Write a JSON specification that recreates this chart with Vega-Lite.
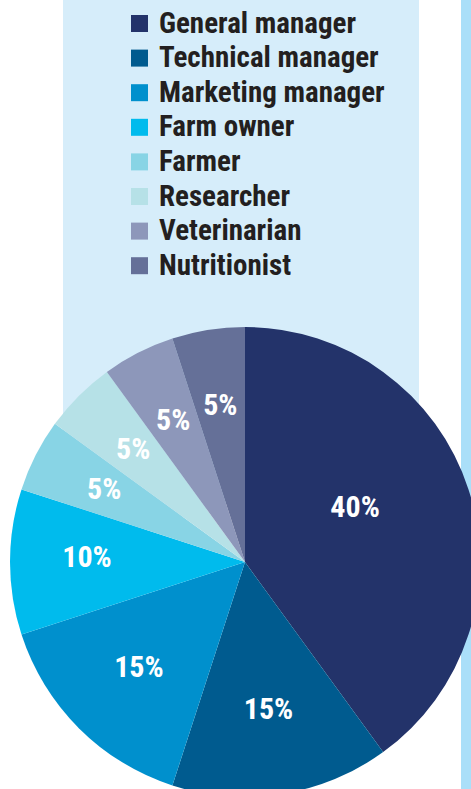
{
  "$schema": "https://vega.github.io/schema/vega-lite/v6.json",
  "autosize": {"type": "none"},
  "padding": 0,
  "width": 490,
  "height": 1124,
  "background": "white",
  "view": {
    "stroke": null,
    "fill": {
      "gradient": "linear", "x1": 0, "y1": 0, "x2": 1, "y2": 0,
      "stops": [
        {"offset": 0, "color": "#ffffff"},
        {"offset": 0.12857, "color": "#ffffff"},
        {"offset": 0.12857, "color": "#d6edfa"},
        {"offset": 0.8551, "color": "#d6edfa"},
        {"offset": 0.8551, "color": "#ffffff"},
        {"offset": 0.94082, "color": "#ffffff"},
        {"offset": 0.94082, "color": "#aadff9"},
        {"offset": 1, "color": "#aadff9"}
      ]
    }
  },
  "data": {
    "values": [
      {"role": "General manager", "share": 0.40, "k": 1},
      {"role": "Technical manager", "share": 0.15, "k": 2},
      {"role": "Marketing manager", "share": 0.15, "k": 3},
      {"role": "Farm owner", "share": 0.10, "k": 4},
      {"role": "Farmer", "share": 0.05, "k": 5},
      {"role": "Researcher", "share": 0.05, "k": 6},
      {"role": "Veterinarian", "share": 0.05, "k": 7},
      {"role": "Nutritionist", "share": 0.05, "k": 8}
    ]
  },
  "encoding": {
    "theta": {"field": "share", "type": "quantitative", "stack": true},
    "order": {"field": "k", "type": "quantitative"},
    "detail": {"field": "role", "type": "nominal"}
  },
  "layer": [
    {
      "mark": {"type": "arc", "radius": 235, "fill": "white", "fillOpacity": 0, "stroke": "white", "strokeWidth": 124, "strokeJoin": "round"},
      "encoding": {
        "strokeOpacity": {"condition": {"test": "datum.k == 2 || datum.k == 3", "value": 1}, "value": 0}
      }
    },
    {
      "mark": {"type": "arc", "radius": 235},
      "encoding": {
        "color": {
          "field": "role",
          "type": "nominal",
          "sort": ["General manager", "Technical manager", "Marketing manager", "Farm owner", "Farmer", "Researcher", "Veterinarian", "Nutritionist"],
          "scale": {
            "domain": ["General manager", "Technical manager", "Marketing manager", "Farm owner", "Farmer", "Researcher", "Veterinarian", "Nutritionist"],
            "range": ["#23336a", "#005b8f", "#0090cd", "#00bbed", "#88d4e5", "#b6e1e7", "#8d97ba", "#657098"]
          },
          "legend": {
            "orient": "none",
            "legendX": 125,
            "legendY": 9,
            "title": null,
            "padding": 0,
            "symbolType": "square",
            "symbolSize": 289,
            "symbolStrokeWidth": 0,
            "labelFont": "Roboto Condensed, Open Sans Condensed, Liberation Sans Narrow, DejaVu Sans Condensed, sans-serif",
            "labelFontSize": 29,
            "labelFontWeight": "bold",
            "labelColor": "#231f20",
            "labelOffset": 5,
            "labelLimit": 0,
            "rowPadding": 4.6
          }
        }
      }
    },
    {
      "mark": {
        "type": "text",
        "color": "white",
        "font": "Roboto Condensed, Open Sans Condensed, Liberation Sans Narrow, DejaVu Sans Condensed, sans-serif",
        "fontSize": 30,
        "fontWeight": "bold",
        "radius": {"expr": "datum.share >= 0.4 ? 121 : (datum.share >= 0.15 ? 150 : 158)"},
        "dx": {"expr": "datum.share >= 0.4 ? -5 : 0"},
        "dy": {"expr": "datum.share >= 0.4 ? -17 : (datum.share >= 0.1 && datum.share < 0.15 ? -4 : 0)"}
      },
      "encoding": {
        "text": {"field": "share", "type": "quantitative", "format": ".0%"}
      }
    }
  ]
}
